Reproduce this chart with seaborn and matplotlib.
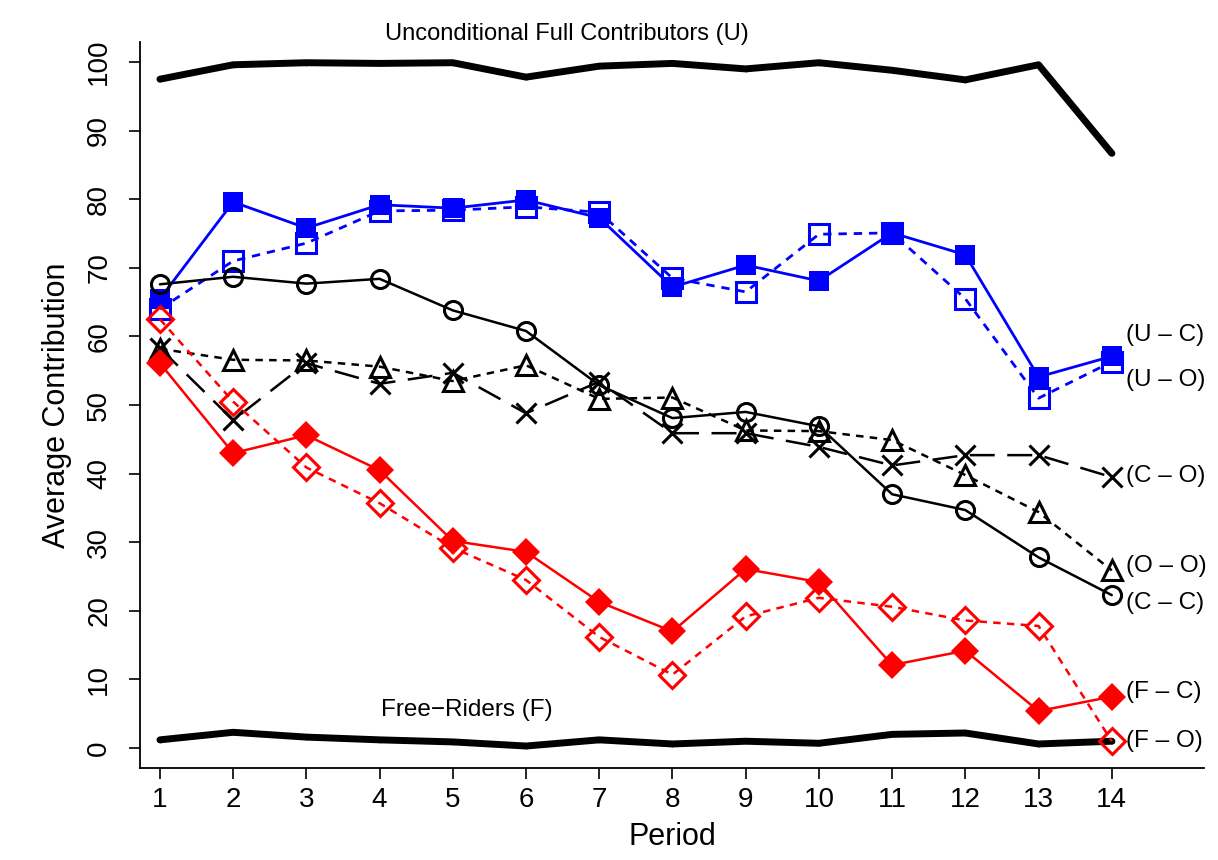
import numpy as np
import pandas as pd
import matplotlib
matplotlib.use("Agg")
import matplotlib.pyplot as plt
import seaborn as sns

# periods of the game
periods = list(range(1, 15))

# average contribution per period, by type pairing
uncond_full = [97.5, 99.6, 99.9, 99.8, 99.9, 97.8, 99.4, 99.8, 99.0, 99.9, 98.8, 97.4, 99.6, 86.7]
free_riders = [1.2, 2.3, 1.6, 1.2, 0.9, 0.3, 1.2, 0.6, 1.0, 0.7, 2.0, 2.2, 0.6, 1.0]
u_c = [65.5, 79.6, 75.8, 79.2, 78.7, 79.9, 77.3, 67.2, 70.4, 68.1, 75.1, 71.9, 54.1, 57.1]
u_o = [64.0, 71.0, 73.6, 78.3, 78.4, 78.9, 78.1, 68.5, 66.5, 74.9, 75.1, 65.5, 51.0, 56.3]
c_c = [67.6, 68.7, 67.7, 68.4, 63.8, 60.8, 52.9, 48.1, 49.0, 46.9, 37.0, 34.7, 27.8, 22.3]
o_o = [58.2, 56.6, 56.5, 55.6, 53.5, 55.8, 50.9, 51.1, 46.3, 46.2, 44.9, 39.8, 34.4, 25.9]
c_o = [58.3, 47.8, 56.1, 53.1, 54.7, 48.8, 53.4, 45.9, 45.9, 43.9, 41.2, 42.7, 42.7, 39.5]
f_c = [56.1, 43.0, 45.6, 40.5, 30.2, 28.6, 21.3, 17.0, 26.1, 24.2, 12.1, 14.2, 5.4, 7.5]
f_o = [62.5, 50.5, 40.9, 35.7, 29.2, 24.5, 16.2, 10.7, 19.2, 21.9, 20.6, 18.6, 17.8, 1.0]

# pairing names written at the right end of each line
end_labels = ["(U – C)", "(U – O)", "(C – O)", "(O – O)", "(C – C)", "(F – C)", "(F – O)"]

sns.set_style("ticks")
plt.rcParams['font.family'] = ['Liberation Sans', 'DejaVu Sans']
plt.rcParams['text.color'] = 'black'
plt.rcParams['axes.labelcolor'] = 'black'

fig = plt.figure(figsize=(12.18, 8.6), dpi=100)
ax = fig.add_axes([0.1149, 0.107, 0.8736, 0.844])

# thick lines for the two fixed types
for vals in [uncond_full, free_riders]:
    sns.lineplot(x=periods, y=vals, ax=ax, color="black", lw=5,
                 marker="o", markersize=4, markeredgewidth=0)

mew = 2.2
lw = 1.8
# pairings
sns.lineplot(x=periods, y=u_o, ax=ax, color="blue", lw=2, dashes=(3, 2.5),
             marker="s", markersize=14, markerfacecolor="none",
             markeredgecolor="blue", markeredgewidth=mew)
sns.lineplot(x=periods, y=u_c, ax=ax, color="blue", lw=2,
             marker="s", markersize=14, markeredgewidth=0)
sns.lineplot(x=periods, y=c_c, ax=ax, color="black", lw=lw,
             marker="o", markersize=13, markerfacecolor="none",
             markeredgecolor="black", markeredgewidth=mew)
sns.lineplot(x=periods, y=o_o, ax=ax, color="black", lw=lw, dashes=(3, 2.5),
             marker="^", markersize=15, markerfacecolor="none",
             markeredgecolor="black", markeredgewidth=mew)
sns.lineplot(x=periods, y=c_o, ax=ax, color="black", lw=lw, dashes=(10, 5),
             marker="x", markersize=14, markeredgecolor="black",
             markeredgewidth=mew)
sns.lineplot(x=periods, y=f_o, ax=ax, color="red", lw=lw, dashes=(3, 2.5),
             marker="D", markersize=13, markerfacecolor="none",
             markeredgecolor="red", markeredgewidth=mew)
sns.lineplot(x=periods, y=f_c, ax=ax, color="red", lw=lw,
             marker="D", markersize=14, markeredgewidth=0)

end_y = [60.2, 53.6, 39.7, 26.5, 21.1, 8.2, 1.0]
for lab, yy in zip(end_labels, end_y):
    ax.text(14.2, yy, lab, ha="left", va="center", fontsize=17.5)

ax.text(6.56, 104.1, "Unconditional Full Contributors (U)", ha="center", va="center",
        fontsize=17, clip_on=False)
ax.text(5.19, 5.5, "Free\u2212Riders (F)", ha="center", va="center", fontsize=17.5)

ax.set_xlim(0.727, 15.26)
ax.set_ylim(-2.9, 102.9)
ax.set_xticks(periods)
ax.set_yticks(range(0, 101, 10))
ax.tick_params(axis="both", labelsize=20, length=8, width=1.2, colors="black")
ax.tick_params(axis="y", pad=12)
ax.tick_params(axis="x", pad=6)
for t in ax.get_yticklabels():
    t.set_rotation(90)
    t.set_va("center")
ax.set_xlabel("Period", fontsize=22, labelpad=6)
ax.set_ylabel("Average Contribution", fontsize=22, labelpad=10)
sns.despine(ax=ax)
for s in ["left", "bottom"]:
    ax.spines[s].set_linewidth(1.3)
    ax.spines[s].set_color("black")

fig.savefig("out.png", dpi=100)
